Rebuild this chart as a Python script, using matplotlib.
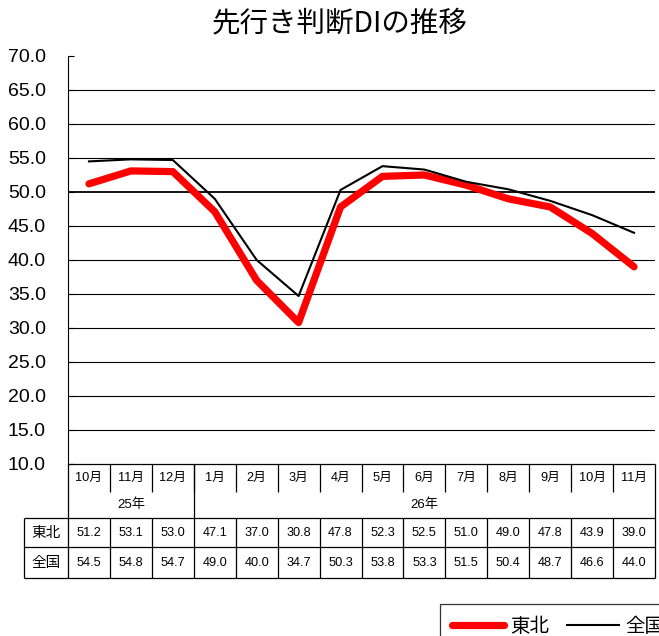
import matplotlib

matplotlib.use("Agg")

import matplotlib.pyplot as plt
from matplotlib.lines import Line2D

months = ["10月", "11月", "12月", "1月", "2月", "3月", "4月", "5月", "6月", "7月", "8月", "9月", "10月", "11月"]
years = [("25年", 0, 2), ("26年", 3, 13)]
tohoku = [51.2, 53.1, 53.0, 47.1, 37.0, 30.8, 47.8, 52.3, 52.5, 51.0, 49.0, 47.8, 43.9, 39.0]
zenkoku = [54.5, 54.8, 54.7, 49.0, 40.0, 34.7, 50.3, 53.8, 53.3, 51.5, 50.4, 48.7, 46.6, 44.0]
y_ticks = [10, 15, 20, 25, 30, 35, 40, 45, 50, 55, 60, 65, 70]

CJK = ["Noto Sans CJK JP", "DejaVu Sans"]
MIX = ["Liberation Sans", "Noto Sans CJK JP"]

W, H = 659, 636
fig = plt.figure(figsize=(W / 100, H / 100), dpi=100)

# plot area in pixels: left 68, right 655, top 56, bottom 464
ax = fig.add_axes([68 / W, (H - 464) / H, 587 / W, 408 / H])
x = list(range(len(months)))
ax.plot(x, tohoku, color="#ff0000", linewidth=5.2, solid_capstyle="round", solid_joinstyle="round", zorder=3)
ax.plot(x, zenkoku, color="black", linewidth=1.5, zorder=4)

ax.set_xlim(-0.5, len(months) - 0.5)
ax.set_ylim(10, 70)
ax.set_yticks(y_ticks)
ax.set_yticklabels([f"{v:.1f}" for v in y_ticks], family=MIX, fontsize=14)
ax.set_xticks([])
for v in y_ticks[1:-1]:
    ax.axhline(v, color="black", linewidth=1.3 if v == 50 else 0.8, zorder=1)
ax.tick_params(axis="y", direction="in", length=4.5, width=0.8, pad=16)
for side in ["top", "right", "bottom"]:
    ax.spines[side].set_visible(False)
ax.spines["left"].set_linewidth(0.8)

fig.text(340 / W, 1 - 23 / H, "先行き判断DIの推移", family=CJK, fontsize=20.5, ha="center", va="center")

# data table below the plot, rows measured in pixels from its top
tb = fig.add_axes([68 / W, (H - 578) / H, 587 / W, 114 / H])
tb.set_xlim(-0.5, len(months) - 0.5)
tb.set_ylim(114, 0)
tb.axis("off")
left = -0.5 - 44 / (587 / 14)
right = len(months) - 0.5
kw = dict(color="black", linewidth=0.9, clip_on=False, solid_capstyle="butt")

tb.plot([-0.5, right], [0, 0], **kw)
tb.plot([left, right], [54, 54], **kw)
tb.plot([left, right], [83, 83], **kw)
tb.plot([left, right], [114, 114], **kw)
tb.plot([-0.5, -0.5], [0, 114], **kw)
tb.plot([right, right], [0, 114], **kw)
tb.plot([left, left], [54, 114], **kw)
for i in range(1, len(months)):
    tb.plot([i - 0.5, i - 0.5], [0, 28], **kw)
    tb.plot([i - 0.5, i - 0.5], [54, 114], **kw)
for label, a, b in years:
    if a > 0:
        tb.plot([a - 0.5, a - 0.5], [0, 54], **kw)
    tb.text((a + b) / 2, 41, label, family=MIX, fontsize=9.5, ha="center", va="center")

for i, m in enumerate(months):
    tb.text(i, 14, m, family=MIX, fontsize=9.2, ha="center", va="center")
    tb.text(i, 69, f"{tohoku[i]:.1f}", family=MIX, fontsize=9.2, ha="center", va="center")
    tb.text(i, 99, f"{zenkoku[i]:.1f}", family=MIX, fontsize=9.2, ha="center", va="center")
tb.text((left - 0.5) / 2, 69, "東北", family=CJK, fontsize=10.5, ha="center", va="center")
tb.text((left - 0.5) / 2, 99, "全国", family=CJK, fontsize=10.5, ha="center", va="center")

# legend sits at the bottom right and runs off the figure edge, as in the source
handles = [
    Line2D([], [], color="#ff0000", linewidth=5.2, solid_capstyle="round"),
    Line2D([], [], color="black", linewidth=1.5),
]
leg = fig.legend(
    handles, ["東北", "全国"], loc="upper left", bbox_to_anchor=(440 / W, 1 - 604 / H),
    ncol=2, frameon=True, fancybox=False, edgecolor="black", prop={"family": CJK, "size": 14},
    handlelength=2.7, handletextpad=0.3, columnspacing=0.9, borderpad=0.6, borderaxespad=0,
)
leg.get_frame().set_linewidth(0.9)

fig.savefig("out.png", dpi=100)
